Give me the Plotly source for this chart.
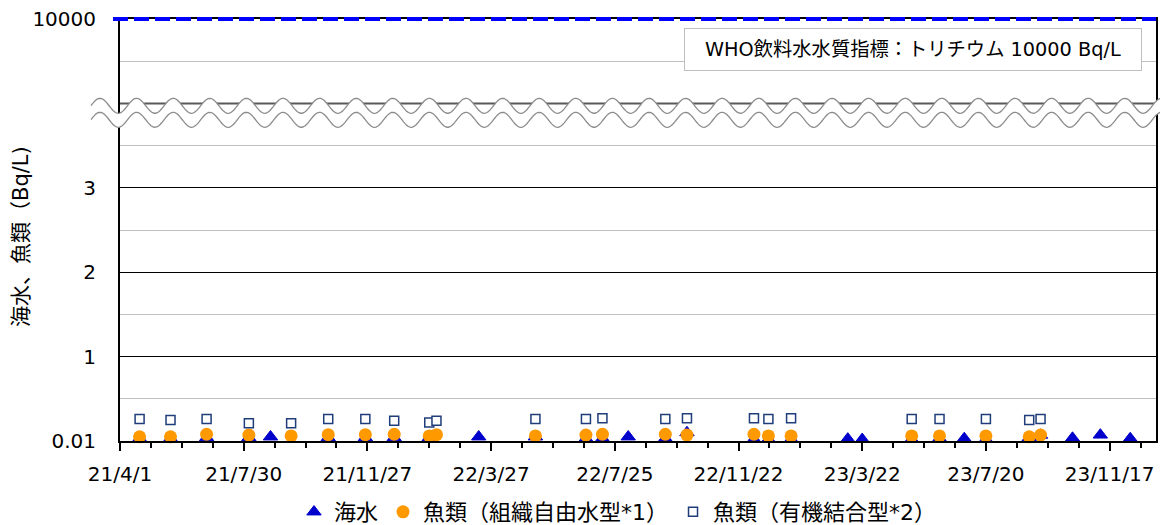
import numpy as np
import plotly.graph_objects as go

# ---------------- data (y in displayed axis units) ----------------
sea_dates = ["2021-04-20", "2021-05-20", "2021-06-24", "2021-08-04", "2021-08-25",
             "2021-10-20", "2021-11-25", "2021-12-23", "2022-01-26", "2022-03-15",
             "2022-05-09", "2022-06-27", "2022-07-13", "2022-08-07", "2022-09-12",
             "2022-10-03", "2022-12-07", "2022-12-21", "2023-01-12", "2023-03-08",
             "2023-03-22", "2023-05-09", "2023-06-05", "2023-06-29", "2023-07-20",
             "2023-08-31", "2023-09-11", "2023-10-12", "2023-11-08", "2023-12-07"]
sea_values = [0.03, 0.03, 0.04, 0.04, 0.05,
              0.04, 0.04, 0.04, 0.04, 0.05,
              0.05, 0.03, 0.03, 0.05, 0.03,
              0.10, 0.02, 0.02, 0.02, 0.025,
              0.02, 0.02, 0.03, 0.03, 0.02,
              0.04, 0.07, 0.035, 0.072, 0.03]

fish_dates = ["2021-04-20", "2021-05-20", "2021-06-24", "2021-08-04", "2021-09-14",
              "2021-10-20", "2021-11-25", "2021-12-23", "2022-01-26", "2022-02-02",
              "2022-05-09", "2022-06-27", "2022-07-13", "2022-09-12", "2022-10-03",
              "2022-12-07", "2022-12-21", "2023-01-12", "2023-05-09", "2023-06-05",
              "2023-07-20", "2023-08-31", "2023-09-11"]
fish_free_values = [0.05, 0.05, 0.08, 0.07, 0.06, 0.075, 0.075, 0.08, 0.06, 0.075,
                    0.06, 0.07, 0.08, 0.08, 0.07, 0.08, 0.06, 0.06,
                    0.06, 0.06, 0.06, 0.05, 0.07]
fish_obt_values = [0.26, 0.25, 0.26, 0.21, 0.21, 0.26, 0.26, 0.24, 0.22, 0.24,
                   0.26, 0.26, 0.27, 0.26, 0.27, 0.27, 0.26, 0.27,
                   0.26, 0.26, 0.26, 0.25, 0.26]

series_names = ["海水", "魚類（組織自由水型*1）", "魚類（有機結合型*2）"]
y_tick_vals = [0, 1, 2, 3, 5]
y_tick_text = ["0.01", "1", "2", "3", "10000"]
y_minor_vals = [0.5, 1.5, 2.5, 3.5, 4.5]
break_level = 4
who_level = 5
y_title = "海水、魚類（Bq/L)"
who_text = "WHO飲料水水質指標：トリチウム 10000 Bq/L"
x_start, x_end = "2021-04-01", "2024-01-01"

# ---------------- layout geometry ----------------
# the page body has an 8px margin, so the figure is drawn 8px right/down
OFF = 8
W, H = 1160, 517
ML, MR, MT, MB = 112, 12, 11, 84
PW, PH = W - ML - MR, H - MT - MB
FONT = "DejaVu Sans, Verdana, Noto Sans CJK JP, sans-serif"
DAY = 86400000


def pxx(px):  # page pixel x -> paper
    return (px - OFF - ML) / PW


def pxy(py):  # page pixel y -> paper
    return (H - MB - (py - OFF)) / PH


fig = go.Figure()
fig.add_trace(go.Scatter(
    x=sea_dates, y=sea_values, mode="markers", name=series_names[0], cliponaxis=False,
    marker=dict(symbol="triangle-up", size=12.5, color="#0000cc",
                line=dict(color="#0000cc", width=1))))
fig.add_trace(go.Scatter(
    x=fish_dates, y=fish_free_values, mode="markers", name=series_names[1], cliponaxis=False,
    marker=dict(symbol="circle", size=13, color="#ff9900", line=dict(width=0))))
fig.add_trace(go.Scatter(
    x=fish_dates, y=fish_obt_values, mode="markers", name=series_names[2], cliponaxis=False,
    marker=dict(symbol="square", size=9, color="white", line=dict(color="#1f3d7a", width=1.5))))

# ---------------- axis break (wavy band) ----------------
xs = np.linspace(91, 1168, 700)
period = 36.6
upper = 105.8 - 7.5 * np.cos(2 * np.pi * (xs - 100) / period)
lower = upper + 14


def path_of(xv, yv):
    pts = ["%.5f,%.5f" % (pxx(a), pxy(b)) for a, b in zip(xv, yv)]
    return "M" + " L".join(pts)


band = path_of(np.concatenate([xs, xs[::-1]]), np.concatenate([upper, lower[::-1]])) + " Z"

shapes = [
    dict(type="line", xref="paper", yref="paper", x0=0, x1=1,
         y0=break_level / 5, y1=break_level / 5, layer="below",
         line=dict(color="#595959", width=2)),
    dict(type="path", xref="paper", yref="paper", path=band, fillcolor="white",
         line=dict(width=0), layer="above"),
    dict(type="path", xref="paper", yref="paper", path=path_of(xs, upper),
         line=dict(color="#8c8c8c", width=1.3), layer="above"),
    dict(type="path", xref="paper", yref="paper", path=path_of(xs, lower),
         line=dict(color="#8c8c8c", width=1.3), layer="above"),
    dict(type="line", xref="paper", yref="paper", x0=pxx(113), x1=1,
         y0=who_level / 5, y1=who_level / 5, layer="above",
         line=dict(color="#0000ff", width=4, dash="15px,6px")),
]

annotations = [
    dict(text=who_text, xref="paper", yref="paper", x=pxx(684), y=pxy(28),
         xanchor="left", yanchor="top", showarrow=False, align="center",
         width=452, height=37, borderpad=2, bordercolor="#bfbfbf", borderwidth=1,
         bgcolor="white", font=dict(size=19.3, color="black", family=FONT)),
    dict(text=y_title, xref="paper", yref="paper", x=pxx(21), y=pxy(237),
         xanchor="center", yanchor="middle", showarrow=False, textangle=-90,
         font=dict(size=21, color="black", family=FONT)),
]

fig.update_layout(
    width=W, height=H, margin=dict(l=ML, r=MR, t=MT, b=MB, pad=0, autoexpand=False),
    paper_bgcolor="white", plot_bgcolor="white",
    font=dict(family=FONT, color="black"),
    shapes=shapes, annotations=annotations,
    showlegend=True,
    legend=dict(orientation="h", xref="container", yref="container",
                x=(294 - OFF) / W, xanchor="left", y=(H - (512 - OFF)) / H, yanchor="middle",
                font=dict(size=22, family=FONT), bgcolor="rgba(0,0,0,0)"),
    xaxis=dict(type="date", range=[x_start, x_end], tick0=x_start, dtick=120 * DAY,
               tickformat="%y/%-m/%-d", ticks="outside", ticklen=8, tickwidth=1.5,
               tickcolor="black", showline=True, linecolor="black", linewidth=2,
               mirror=True, showgrid=False, zeroline=False, automargin=False,
               ticklabelstandoff=6,
               tickfont=dict(size=20, color="black", family=FONT),
               minor=dict(tick0=x_start, dtick=30 * DAY, ticks="outside", ticklen=5,
                          tickwidth=1.5, tickcolor="black", showgrid=False)),
    yaxis=dict(range=[0, 5], tickmode="array", tickvals=y_tick_vals, ticktext=y_tick_text,
               ticks="", showline=True, linecolor="black", linewidth=2, mirror=True,
               showgrid=True, gridcolor="black", gridwidth=1, zeroline=False,
               ticklabelstandoff=18, automargin=False, ticklabeloverflow="allow",
               tickfont=dict(size=20, color="black", family=FONT),
               minor=dict(tickmode="array", tickvals=y_minor_vals, showgrid=True,
                          gridcolor="#c0c0c0", gridwidth=1, ticks="")),
)

fig.write_html("out.html")
